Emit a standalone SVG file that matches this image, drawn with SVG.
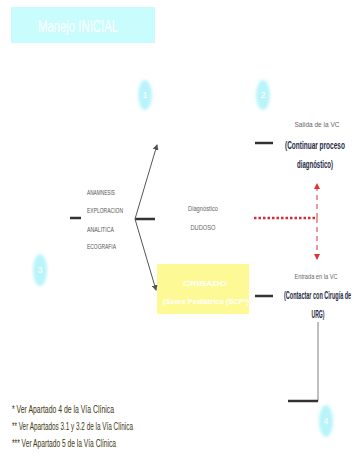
<svg xmlns="http://www.w3.org/2000/svg" width="355" height="466" viewBox="0 0 355 466">
<defs>
<style>
.lbl{font-family:"Liberation Sans",Arial,sans-serif;fill:#666;}
.sm{font-size:7px;fill:#555;}
.mid{font-size:8px;fill:#666;}
.bold{font-family:"Liberation Sans",Arial,sans-serif;font-weight:bold;font-size:10px;fill:#1f2a44;}
.note{font-family:"Liberation Sans",Arial,sans-serif;font-size:10px;fill:#3d3610;}
.num{font-family:"Liberation Sans",Arial,sans-serif;font-size:9px;fill:#ffffff;text-anchor:middle;}
.badge{fill:#b8f4fa;}
.thick{stroke:#333;stroke-width:2.5;fill:none;}
.thin{stroke:#555;stroke-width:1;fill:none;}
</style>
<filter id="soft" x="-50%" y="-50%" width="200%" height="200%"><feGaussianBlur stdDeviation="1.5"/></filter>
<marker id="ah" markerWidth="6" markerHeight="6" refX="5" refY="3" orient="auto" markerUnits="userSpaceOnUse"><path d="M0,0 L6,3 L0,6 Z" fill="#555"/></marker>
<marker id="ahr" markerWidth="6" markerHeight="6" refX="5" refY="3" orient="auto" markerUnits="userSpaceOnUse"><path d="M0,0 L6,3 L0,6 Z" fill="#d33"/></marker>
</defs>
<rect width="355" height="466" fill="#ffffff"/>

<g id="title">
<rect x="11" y="7" width="144" height="36" fill="#c9fcfd"/>
<text x="78" y="32" font-family="Liberation Sans, Arial, sans-serif" font-size="17" fill="#ffffff" text-anchor="middle" textLength="80" lengthAdjust="spacingAndGlyphs">Manejo INICIAL</text>
</g>

<g id="badge1"><ellipse class="badge" cx="145" cy="95" rx="7" ry="15" filter="url(#soft)"/><text class="num" x="145" y="98">1</text></g>
<g id="badge2"><ellipse class="badge" cx="263" cy="95" rx="7" ry="15" filter="url(#soft)"/><text class="num" x="263" y="98">2</text></g>
<g id="badge3"><ellipse class="badge" cx="40" cy="270" rx="7" ry="16" filter="url(#soft)"/><text class="num" x="40" y="273">3</text></g>
<g id="badge4"><ellipse class="badge" cx="326" cy="421" rx="7" ry="16" filter="url(#soft)"/><text class="num" x="326" y="424">4</text></g>

<g id="pruebas">
<text class="lbl sm" x="87" y="195" textLength="28" lengthAdjust="spacingAndGlyphs">ANAMNESIS</text>
<text class="lbl sm" x="87" y="213" textLength="36" lengthAdjust="spacingAndGlyphs">EXPLORACION</text>
<text class="lbl sm" x="87" y="232" textLength="27" lengthAdjust="spacingAndGlyphs">ANALITICA</text>
<text class="lbl sm" x="87" y="249" textLength="29" lengthAdjust="spacingAndGlyphs">ECOGRAFIA</text>
</g>

<g id="dudoso">
<text class="lbl mid" x="203" y="211" text-anchor="middle" textLength="30" lengthAdjust="spacingAndGlyphs">Diagnóstico</text>
<text class="lbl mid" x="203" y="230" text-anchor="middle" textLength="25" lengthAdjust="spacingAndGlyphs">DUDOSO</text>
</g>

<g id="cribado">
<rect x="157" y="264" width="92" height="50" fill="#fdfa96"/>
<text x="205" y="286" font-family="Liberation Sans, Arial, sans-serif" font-weight="bold" font-size="8" fill="#ffffff" text-anchor="middle" textLength="44" lengthAdjust="spacingAndGlyphs">CRIBADO</text>
<text x="206" y="304" font-family="Liberation Sans, Arial, sans-serif" font-weight="bold" font-size="8" fill="#ffffff" text-anchor="middle" textLength="86" lengthAdjust="spacingAndGlyphs">(Score Pediátrico (SCP*)</text>
</g>

<g id="salida">
<text class="lbl mid" x="317" y="127" text-anchor="middle" textLength="45" lengthAdjust="spacingAndGlyphs">Salida de la VC</text>
<text class="bold" transform="translate(285,149) scale(0.65,1)">(Continuar proceso</text>
<text class="bold" x="315" y="168" text-anchor="middle" textLength="36" lengthAdjust="spacingAndGlyphs">diagnóstico)</text>
</g>

<g id="entrada">
<text class="lbl mid" x="316" y="279" text-anchor="middle" textLength="43" lengthAdjust="spacingAndGlyphs">Entrada en la VC</text>
<text class="bold" transform="translate(284,299) scale(0.55,1)">(Contactar con Cirugía de</text>
<text class="bold" x="318" y="318" text-anchor="middle" textLength="13" lengthAdjust="spacingAndGlyphs">URG)</text>
</g>

<g id="notas">
<text class="note" x="12" y="413" textLength="102" lengthAdjust="spacingAndGlyphs">* Ver Apartado 4 de la Vía Clínica</text>
<text class="note" x="12" y="430" textLength="121" lengthAdjust="spacingAndGlyphs">** Ver Apartados 3.1 y 3.2 de la Vía Clínica</text>
<text class="note" x="12" y="447" textLength="104" lengthAdjust="spacingAndGlyphs">*** Ver Apartado 5 de la Vía Clínica</text>
</g>

<g id="connectors">
<line class="thick" x1="70" y1="218" x2="81" y2="218"/>
<line class="thick" x1="135" y1="219" x2="155" y2="219"/>
<line class="thin" x1="135" y1="219" x2="157" y2="145" marker-end="url(#ah)"/>
<line class="thin" x1="135" y1="219" x2="156" y2="290" marker-end="url(#ah)"/>
<line class="thick" x1="255" y1="143" x2="273" y2="143"/>
<line class="thick" x1="255" y1="296" x2="273" y2="296"/>
<line x1="254" y1="218" x2="316" y2="218" stroke="#d42a3a" stroke-width="2.5" stroke-dasharray="2.5,2"/>
<line x1="317" y1="218" x2="317" y2="184" stroke="#d33" stroke-width="1" stroke-dasharray="5,4" marker-end="url(#ahr)"/>
<line x1="317" y1="218" x2="317" y2="259" stroke="#d33" stroke-width="1" stroke-dasharray="5,4" marker-end="url(#ahr)"/>
<line x1="318" y1="322" x2="318" y2="401" stroke="#aaa" stroke-width="1.5"/>
<line class="thick" x1="288" y1="401" x2="318" y2="401"/>
</g>
</svg>
